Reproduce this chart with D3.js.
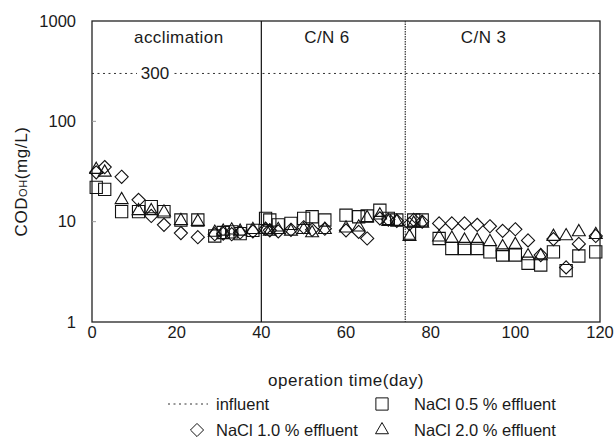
<!DOCTYPE html>
<html>
<head>
<meta charset="utf-8">
<script src="https://cdn.jsdelivr.net/npm/d3@7"></script>
<style>
  body { margin: 0; background: #fff; }
  svg text { font-family: "Liberation Sans", Arial, sans-serif; fill: #1a1a1a; }
</style>
</head>
<body>
<div id="chart"></div>
<script>
// sampling days (operation time)
const days = [1, 3, 7, 11, 14, 17, 21, 25, 29, 31, 33, 35, 38, 41, 42, 44, 47, 50, 52, 55,
              60, 63, 65, 68, 70, 72, 75, 76, 78, 82, 85, 88, 91, 94, 97, 100, 103, 106, 109, 112, 115, 119];

// effluent COD (mg/L)
const nacl05 = [22, 21, 12.6, 12.6, 14.1, 12.6, 10.4, 10.4, 7.2, 7.8, 7.9, 7.6, 8.2, 10.8, 10.4, 9.3, 9.6, 10.8, 11.2, 10.4,
                11.6, 11.2, 11.4, 13, 10.8, 10.4, 7.7, 10.4, 10.4, 6.8, 5.4, 5.4, 5.4, 5.0, 4.65, 4.65, 3.85, 3.7, 5.0, 3.25, 4.55, 5.0];
const nacl10 = [31, 35, 28, 16.5, 11.4, 9.3, 7.7, 7.0, 7.5, 7.6, 7.5, 7.8, 8, 8.5, 8.2, 8, 8.3, 8.8, 8.3, 8.5,
                8.2, 7.9, 6.8, 10.8, 10.5, 10.2, 9.5, 10.4, 10, 9.6, 9.6, 9.6, 9.3, 9.0, 8.1, 8.4, 6.5, 4.65, 6.7, 3.5, 6.0, 7.2];
const nacl20 = [33, 31, 16.5, 12.8, 12.8, 12.4, 10.2, 10, 7.8, 8, 8.2, 8, 8.3, 8.3, 8.0, 8.3, 8, 8.3, 7.7, 8.3,
                8.6, 8.8, 10.9, 11.6, 10, 10, 7.1, 9.6, 9.6, 7.0, 6.8, 6.5, 6.5, 6.3, 5.6, 5.9, 4.55, 4.55, 7.1, 7.2, 7.9, 7.4];

const influent = 300;
const phaseBounds = [40, 74];
const phaseLabels = ["acclimation", "C/N 6", "C/N 3"];
const phaseLabelDays = [20.5, 55.5, 92.5];
const xTicks = [0, 20, 40, 60, 80, 100, 120];
const yTicks = [1, 10, 100, 1000];

const width = 616, height = 442;
const margin = {top: 21, right: 16, bottom: 120, left: 92};

const svg = d3.select("#chart").append("svg").attr("width", width).attr("height", height);

const x = d3.scaleLinear().domain([0, 120]).range([margin.left, width - margin.right]);
const y = d3.scaleLog().domain([1, 1000]).range([height - margin.bottom, margin.top]);

// frame
svg.append("rect")
  .attr("x", x(0)).attr("y", y(1000))
  .attr("width", x(120) - x(0)).attr("height", y(1) - y(1000))
  .attr("fill", "none").attr("stroke", "#222").attr("stroke-width", 1.3);

// small inner ticks
svg.selectAll("line.ytick")
  .data(yTicks.slice(1, -1))
  .join("line")
  .attr("class", "ytick")
  .attr("x1", x(0)).attr("x2", x(0) + 4)
  .attr("y1", d => y(d)).attr("y2", d => y(d))
  .attr("stroke", "#999");

// tick labels
svg.selectAll("text.ylab")
  .data(yTicks)
  .join("text")
  .attr("class", "ylab")
  .attr("x", 76).attr("y", d => y(d)).attr("dy", "0.35em")
  .attr("text-anchor", "end").style("font-size", "16.5px")
  .text(d => d);

svg.selectAll("text.xlab")
  .data(xTicks)
  .join("text")
  .attr("class", "xlab")
  .attr("x", d => x(d)).attr("y", y(1) + 16)
  .attr("text-anchor", "middle").style("font-size", "16.5px")
  .text(d => d);

// phase separators
svg.append("line")
  .attr("x1", x(phaseBounds[0])).attr("x2", x(phaseBounds[0]))
  .attr("y1", y(1000)).attr("y2", y(1))
  .attr("stroke", "#111").attr("stroke-width", 1.2);
svg.append("line")
  .attr("x1", x(phaseBounds[1])).attr("x2", x(phaseBounds[1]))
  .attr("y1", y(1000)).attr("y2", y(1))
  .attr("stroke", "#333").attr("stroke-width", 1.2).attr("stroke-dasharray", "1.5,1");

// influent line + label
svg.append("line")
  .attr("x1", x(0)).attr("x2", x(120))
  .attr("y1", y(influent)).attr("y2", y(influent))
  .attr("stroke", "#333").attr("stroke-dasharray", "2,3.5");
svg.append("rect")
  .attr("x", 137).attr("y", y(influent) - 8).attr("width", 36).attr("height", 16)
  .attr("fill", "#fff");
svg.append("text")
  .attr("x", 155).attr("y", y(influent)).attr("dy", "0.35em")
  .attr("text-anchor", "middle").style("font-size", "17px")
  .text(influent);

svg.selectAll("text.phase")
  .data(phaseLabels)
  .join("text")
  .attr("class", "phase")
  .attr("x", (d, i) => x(phaseLabelDays[i])).attr("y", 43)
  .attr("text-anchor", "middle").style("font-size", "17px").style("letter-spacing", "0.4px")
  .text(d => d);

// markers
const sym = {
  square: d3.symbol().type(d3.symbolSquare).size(150),
  diamond: d3.symbol().type(d3.symbolDiamond2).size(110),
  triangle: d3.symbol().type(d3.symbolTriangle2).size(120)
};
const series = [
  {name: "NaCl 0.5 % effluent", values: nacl05, shape: "square"},
  {name: "NaCl 1.0 % effluent", values: nacl10, shape: "diamond"},
  {name: "NaCl 2.0 % effluent", values: nacl20, shape: "triangle"}
];

series.forEach(s => {
  svg.append("g").selectAll("path")
    .data(days.map((d, i) => [d, s.values[i]]))
    .join("path")
    .attr("transform", d => `translate(${x(d[0])},${y(d[1])})`)
    .attr("d", sym[s.shape]())
    .attr("fill", "none").attr("stroke", "#111").attr("stroke-width", 1.1);
});

// axis titles
svg.append("text")
  .attr("x", (x(0) + x(120)) / 2).attr("y", 386)
  .attr("text-anchor", "middle").style("font-size", "17px").style("letter-spacing", "0.5px")
  .text("operation time(day)");

const yt = svg.append("text")
  .attr("transform", `translate(27,${(y(1) + y(1000)) / 2 + 10}) rotate(-90)`)
  .attr("text-anchor", "middle").style("font-size", "17px").style("letter-spacing", "0.6px");
yt.append("tspan").text("COD");
yt.append("tspan").style("font-size", "11px").text("OH");
yt.append("tspan").text("(mg/L)");

// legend
const leg = svg.append("g").style("font-size", "16.5px");
const col1 = 216, col2 = 414, row1 = 410, row2 = 436;
leg.append("line")
  .attr("x1", 168).attr("x2", col1 - 8).attr("y1", row1 - 6).attr("y2", row1 - 6)
  .attr("stroke", "#333").attr("stroke-dasharray", "2,3.5");
leg.append("text").attr("x", col1).attr("y", row1).text("influent");
leg.append("path").attr("transform", `translate(382,${row1 - 6})`).attr("d", sym.square())
  .attr("fill", "none").attr("stroke", "#111");
leg.append("text").attr("x", col2).attr("y", row1).text(series[0].name);
leg.append("path").attr("transform", `translate(197,${row2 - 6})`).attr("d", sym.diamond())
  .attr("fill", "none").attr("stroke", "#111");
leg.append("text").attr("x", col1).attr("y", row2).text(series[1].name);
leg.append("path").attr("transform", `translate(382,${row2 - 6})`).attr("d", sym.triangle())
  .attr("fill", "none").attr("stroke", "#111");
leg.append("text").attr("x", col2).attr("y", row2).text(series[2].name);
</script>
</body>
</html>
